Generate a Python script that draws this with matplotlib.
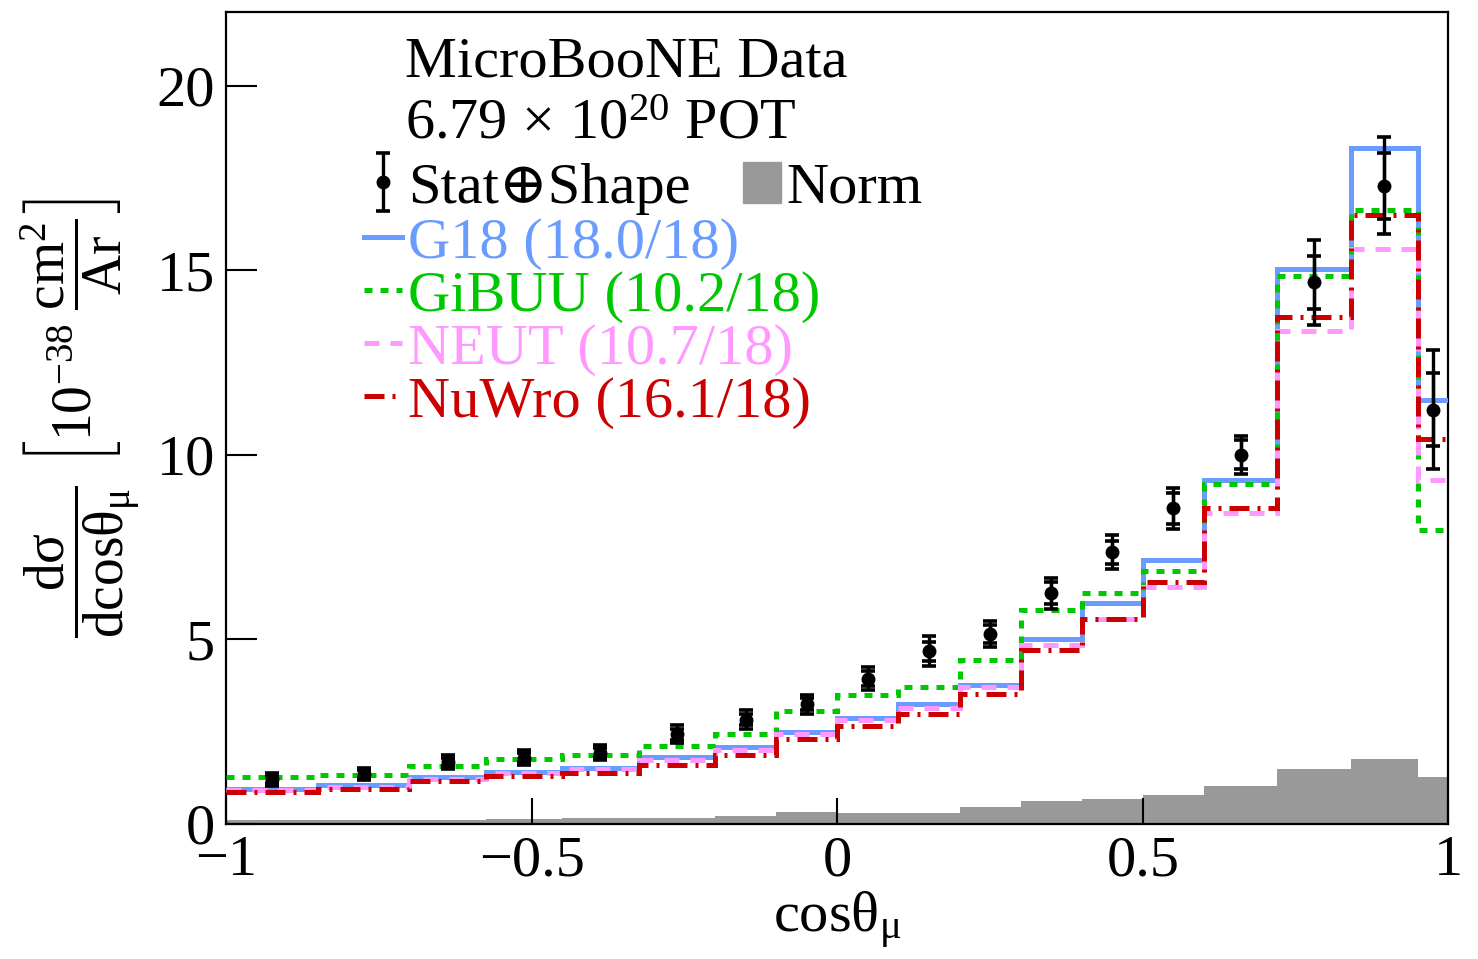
import matplotlib
matplotlib.use("Agg")
import numpy as np
import matplotlib.pyplot as plt
from matplotlib.patches import Patch

plt.rcParams["font.family"] = ["Liberation Serif", "DejaVu Serif"]
plt.rcParams["mathtext.fontset"] = "custom"
plt.rcParams["mathtext.rm"] = "Liberation Serif"
plt.rcParams["mathtext.it"] = "Liberation Serif:italic"
plt.rcParams["mathtext.default"] = "rm"

# Binning in cos(theta_mu)
edges = [-1, -0.85, -0.7, -0.575, -0.45, -0.325, -0.2, -0.1, 0.0, 0.1,
         0.2, 0.3, 0.4, 0.5, 0.6, 0.72, 0.84, 0.95, 1.0]

# Unfolded data [1e-38 cm2/Ar]
data = [1.21, 1.35, 1.68, 1.80, 1.93, 2.43, 2.83, 3.24, 3.94, 4.68,
        5.15, 6.25, 7.36, 8.55, 10.0, 14.68, 17.29, 11.22]
err_tot = [0.17, 0.17, 0.19, 0.20, 0.20, 0.24, 0.25, 0.26, 0.30, 0.40,
           0.36, 0.42, 0.46, 0.56, 0.52, 1.15, 1.31, 1.61]
err_stat = [0.10, 0.10, 0.12, 0.12, 0.12, 0.15, 0.15, 0.16, 0.20, 0.26,
            0.25, 0.30, 0.31, 0.41, 0.39, 0.72, 0.90, 0.99]

# Normalisation uncertainty band
norm = [0.10, 0.10, 0.11, 0.14, 0.17, 0.17, 0.22, 0.32, 0.31, 0.29,
        0.47, 0.62, 0.67, 0.78, 1.04, 1.50, 1.75, 1.28]

# Generator predictions
g18 = [0.96, 1.05, 1.28, 1.41, 1.52, 1.82, 2.09, 2.49, 2.88, 3.26,
       3.76, 5.00, 5.99, 7.15, 9.32, 15.04, 18.31, 11.50]
gibuu = [1.26, 1.34, 1.58, 1.75, 1.88, 2.11, 2.45, 3.06, 3.49, 3.71,
         4.45, 5.80, 6.25, 6.86, 9.22, 14.86, 16.64, 7.96]
neut = [0.92, 1.01, 1.21, 1.38, 1.48, 1.73, 2.00, 2.43, 2.83, 3.13,
        3.71, 4.86, 5.56, 6.43, 8.42, 13.35, 15.57, 9.32]
nuwro = [0.87, 0.95, 1.16, 1.30, 1.37, 1.60, 1.87, 2.29, 2.66, 2.97,
         3.51, 4.72, 5.55, 6.56, 8.56, 13.73, 16.49, 10.42]

model_names = ["G18 (18.0/18)", "GiBUU (10.2/18)", "NEUT (10.7/18)", "NuWro (16.1/18)"]
model_colors = ["#6a9cff", "#00c800", "#ff99ff", "#cc0000"]

xtick_vals = [-1, -0.5, 0, 0.5, 1]
xtick_labels = ["\u22121", "\u22120.5", "0", "0.5", "1"]
ytick_vals = [0, 5, 10, 15, 20]

edges = np.array(edges)
centers = 0.5 * (edges[1:] + edges[:-1])

fig = plt.figure(figsize=(14.78, 9.59), dpi=100)
ax = fig.add_axes([0.153, 0.1408, 0.827, 0.8467])

ax.stairs(norm, edges, fill=True, color="#999999", zorder=1)

styles = [
    dict(linestyle="-"),
    dict(linestyle=(0, (1.6, 1.6))),
    dict(linestyle=(0, (3.0, 2.2))),
    dict(linestyle=(0, (4.0, 1.6, 0.6, 1.6))),
]
lines = []
for vals, col, st in zip([g18, gibuu, neut, nuwro], model_colors, styles):
    h = ax.stairs(vals, edges, color=col, linewidth=3.6, zorder=3, baseline=None, **st)
    lines.append(h)

eb = ax.errorbar(centers, data, yerr=err_tot, fmt="o", color="black", markersize=9,
                 elinewidth=2.4, capsize=5, capthick=2.6, zorder=5)
ax.errorbar(centers, data, yerr=err_stat, fmt="none", ecolor="black",
            elinewidth=2.4, capsize=5, capthick=2.6, zorder=5)

ax.set_xlim(-1, 1)
ax.set_ylim(0, 22)
ax.set_xticks(xtick_vals)
ax.set_xticklabels(xtick_labels)
ax.set_yticks(ytick_vals)
ax.tick_params(axis="both", direction="in", width=1.5, labelsize=42, top=False, right=False)
ax.tick_params(axis="x", length=19, pad=8)
ax.tick_params(axis="y", length=22, pad=8)
for sp in ax.spines.values():
    sp.set_linewidth(1.6)

ax.set_xlabel(r"cos$\theta_{\mu}$", fontsize=42, labelpad=2)
ax.set_ylabel(r"$\dfrac{\mathrm{d}\sigma}{\mathrm{dcos}\theta_{\mu}}\ \left[10^{-38}\ \dfrac{\mathrm{cm}^{2}}{\mathrm{Ar}}\right]$",
              fontsize=40, labelpad=10)

ax.text(0.146, 0.938, "MicroBooNE Data", transform=ax.transAxes, fontsize=42,
        va="center", ha="left")
ax.text(0.146, 0.862, r"6.79 × 10$^{20}$ POT", transform=ax.transAxes, fontsize=42,
        va="center", ha="left")

leg1 = ax.legend([eb, Patch(color="#999999")], ["Stat\u2295Shape", "Norm"], ncol=2,
                 loc="center left", bbox_to_anchor=(0.113, 0.783), frameon=False,
                 fontsize=42, handlelength=0.65, handletextpad=0.1, columnspacing=0.9,
                 borderpad=0, borderaxespad=0)
ax.add_artist(leg1)
ax.legend(lines, model_names, labelcolor=model_colors, loc="upper left",
          bbox_to_anchor=(0.113, 0.748), frameon=False, fontsize=42,
          handlelength=0.65, handletextpad=0.1, labelspacing=0.0,
          borderpad=0, borderaxespad=0)

fig.savefig("out.png", dpi=100)
